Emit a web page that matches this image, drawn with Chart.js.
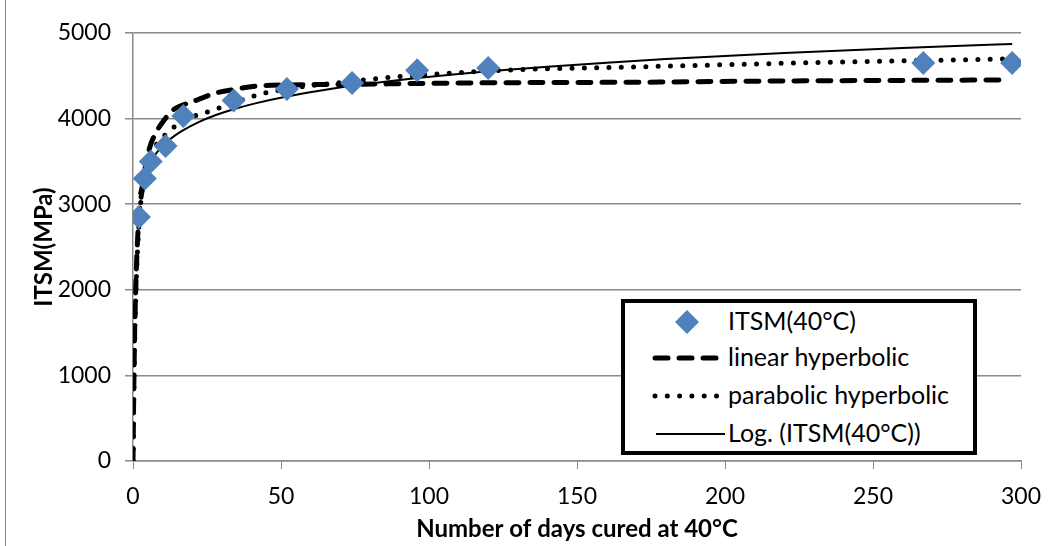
<!DOCTYPE html>
<html>
<head>
<meta charset="utf-8">
<script src="https://cdn.jsdelivr.net/npm/chart.js@4.4.1/dist/chart.umd.min.js"></script>
<style>
  body { margin: 0; background: #fff; }
  #wrap { position: relative; width: 1059px; height: 546px; overflow: hidden; }
  #frame { position: absolute; left: 5px; top: 0; width: 1px; height: 546px; background: #8a8a8a; }
  #legend {
    position: absolute; left: 621px; top: 299px; width: 348px; height: 148px;
    border: 4px solid #000; background: #fff;
    font-family: Lato, "Open Sans", sans-serif; font-size: 25px; color: #000;
  }
  .row { position: absolute; left: 0; height: 36px; width: 100%; }
  .row svg { position: absolute; left: 22px; top: 0; }
  .row span { position: absolute; left: 103px; top: 2px; white-space: nowrap; }
</style>
</head>
<body>
<div id="wrap">
  <canvas id="grafica" width="1059" height="546"></canvas>
  <div id="frame"></div>
  <div id="legend">
    <div class="row" style="top:0px">
      <svg width="80" height="36"><polygon points="40,7 52,19 40,31 28,19" fill="#4f81bd"/></svg>
      <span>ITSM(40°C)</span>
    </div>
    <div class="row" style="top:36px">
      <svg width="80" height="36"><line x1="8" y1="19" x2="74" y2="19" stroke="#000" stroke-width="5" stroke-linecap="round" stroke-dasharray="13 11"/></svg>
      <span>linear hyperbolic</span>
    </div>
    <div class="row" style="top:74px">
      <svg width="80" height="36"><line x1="8" y1="19" x2="74" y2="19" stroke="#000" stroke-width="5" stroke-linecap="round" stroke-dasharray="0 12.3"/></svg>
      <span>parabolic hyperbolic</span>
    </div>
    <div class="row" style="top:112px">
      <svg width="80" height="36"><line x1="9" y1="19" x2="78" y2="19" stroke="#000" stroke-width="2"/></svg>
      <span>Log. (ITSM(40°C))</span>
    </div>
  </div>
</div>
<script>
// Mediciones ITSM (40°C)
const diasMedidos = [2, 4, 6, 11, 17, 34, 52, 74, 96, 120, 267, 297];
const itsmMedido = [2850, 3300, 3500, 3680, 4030, 4210, 4345, 4415, 4565, 4590, 4650, 4650];

// Curva linear hyperbolic
const diasLineal = [0, 0.25, 0.5, 1, 1.5, 2, 3, 4, 5.7, 7.5, 9.8, 13.5, 17, 21.6, 28, 33, 42, 52, 74, 100, 130, 170, 220, 260, 295];
const itsmLineal = [0, 800, 1400, 2100, 2550, 2850, 3150, 3400, 3668, 3820, 3949, 4100, 4160, 4217, 4299, 4334, 4380, 4393, 4400, 4412, 4420, 4425, 4440, 4446, 4452];

// Curva parabolic hyperbolic
const diasParabolico = [0, 0.5, 1, 2, 3.4, 5.1, 7, 10.8, 15, 21.6, 25, 30, 42, 46, 52, 60, 70, 82, 88, 103, 127, 165, 225, 260, 295];
const itsmParabolico = [0, 1300, 2000, 2750, 3248, 3516, 3650, 3808, 3930, 4042, 4077, 4136, 4276, 4310, 4345, 4385, 4420, 4465, 4485, 4521, 4568, 4600, 4650, 4675, 4696];

// Tendencia logarítmica
const diasLog = [2, 3, 4, 6, 8, 11, 14, 17, 22, 28, 34, 42, 52, 63, 74, 85, 96, 110, 120, 140, 160, 180, 200, 220, 240, 260, 280, 297];
const itsmLog = [3115, 3258, 3359, 3501, 3602, 3714, 3798, 3866, 3957, 4042, 4110, 4184, 4259, 4326, 4383, 4431, 4474, 4522, 4552, 4606, 4653, 4695, 4732, 4765, 4796, 4824, 4850, 4871];

const pares = (xs, ys) => xs.map((x, i) => ({ x: x, y: ys[i] }));
const gris = "#8a8a8a";
const fuente = "Lato, 'Open Sans', sans-serif";

new Chart(document.getElementById("grafica"), {
  type: "scatter",
  data: {
    datasets: [
      {
        label: "ITSM(40°C)",
        data: pares(diasMedidos, itsmMedido),
        pointStyle: "rectRot",
        pointRadius: 12,
        backgroundColor: "#4f81bd",
        borderWidth: 0,
        showLine: false
      },
      {
        label: "linear hyperbolic",
        data: pares(diasLineal, itsmLineal),
        showLine: true,
        pointRadius: 0,
        borderColor: "#000",
        borderWidth: 5,
        borderDash: [13, 11],
        borderCapStyle: "round",
        cubicInterpolationMode: "monotone"
      },
      {
        label: "parabolic hyperbolic",
        data: pares(diasParabolico, itsmParabolico),
        showLine: true,
        pointRadius: 0,
        borderColor: "#000",
        borderWidth: 5,
        borderDash: [0, 12.3],
        borderCapStyle: "round",
        cubicInterpolationMode: "monotone"
      },
      {
        label: "Log. (ITSM(40°C))",
        data: pares(diasLog, itsmLog),
        showLine: true,
        pointRadius: 0,
        borderColor: "#000",
        borderWidth: 2,
        cubicInterpolationMode: "monotone"
      }
    ]
  },
  options: {
    responsive: false,
    animation: false,
    layout: { padding: { left: 5, right: 38, top: 33, bottom: 0 } },
    plugins: {
      legend: { display: false },
      tooltip: { enabled: false }
    },
    scales: {
      x: {
        type: "linear",
        min: 0,
        max: 300,
        afterFit: (s) => { s.height = 85; },
        ticks: { stepSize: 50, color: "#000", padding: 14, font: { family: fuente, size: 23 }, callback: (v) => String(v) },
        grid: { drawOnChartArea: false, color: gris, tickLength: 8 },
        border: { color: gris, width: 1.5 },
        title: {
          display: true,
          text: "Number of days cured at 40°C",
          color: "#000",
          font: { family: fuente, size: 24, weight: "bold" },
          padding: { top: 0, bottom: 2 }
        }
      },
      y: {
        min: 0,
        max: 5000,
        afterFit: (s) => { s.width = 128; },
        ticks: { stepSize: 1000, color: "#000", padding: 14, font: { family: fuente, size: 23 }, callback: (v) => String(v) },
        grid: { color: gris, lineWidth: 1.5, tickLength: 8 },
        border: { color: gris, width: 1.5 },
        title: {
          display: true,
          text: "ITSM(MPa)",
          color: "#000",
          font: { family: fuente, size: 24, weight: "bold" },
          padding: { top: 25, bottom: 0 }
        }
      }
    }
  }
});
</script>
</body>
</html>
